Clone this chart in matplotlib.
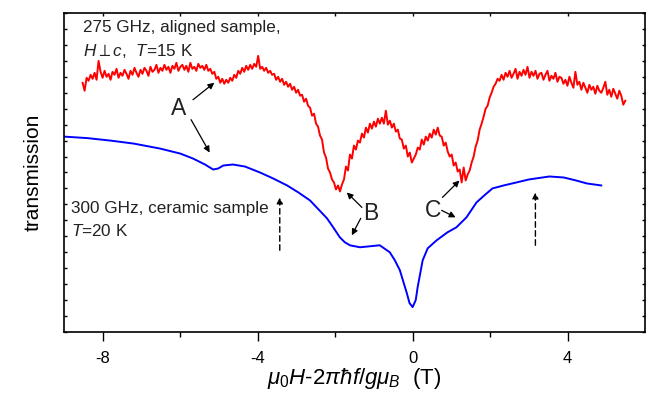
import numpy as np
import matplotlib
matplotlib.use("Agg")
import matplotlib.pyplot as plt

plt.rcParams["font.family"] = ["Liberation Sans", "DejaVu Sans"]
plt.rcParams["mathtext.fontset"] = "custom"
plt.rcParams["mathtext.rm"] = "Liberation Sans"
plt.rcParams["mathtext.it"] = "Liberation Sans:italic"
plt.rcParams["mathtext.bf"] = "Liberation Sans:bold"

# 275 GHz, aligned sample (noisy trace), evenly sampled in field
red_start, red_end = -8.52, 5.49
red_y = [
    250, 242, 255, 252, 258, 254, 260, 253, 272, 261,
    255, 262, 256, 259, 253, 261, 258, 264, 255, 260,
    257, 263, 259, 254, 262, 258, 265, 260, 256, 263,
    259, 265, 262, 257, 266, 261, 263, 268, 260, 265,
    262, 268, 263, 266, 260, 267, 264, 270, 262, 266,
    268, 263, 267, 261, 270, 264, 266, 262, 269, 265,
    267, 263, 268, 262, 264, 259, 261, 254, 256, 250,
    254, 249, 253, 250, 255, 252, 258, 255, 262, 259,
    265, 261, 267, 263, 268, 264, 269, 266, 277, 264,
    266, 262, 265, 260, 262, 258, 259, 253, 256, 251,
    254, 248, 251, 246, 249, 243, 246, 240, 243, 237,
    238, 231, 234, 227, 225, 217, 219, 209, 206, 197,
    193, 180, 175, 164, 160, 153, 150, 143, 147, 141,
    148, 153, 166, 162, 178, 174, 187, 183, 192, 190,
    199, 195, 205, 200, 209, 204, 211, 206, 214, 209,
    215, 209, 222, 208, 212, 205, 209, 201, 203, 194,
    193, 184, 187, 176, 180, 170, 174, 178, 185, 183,
    193, 188, 196, 192, 199, 195, 203, 198, 205, 197,
    196, 187, 190, 181, 176, 178, 167, 170, 161, 163,
    150, 165, 152, 158, 162, 170, 176, 186, 192, 203,
    209, 216, 224, 227, 235, 240, 246, 249, 254, 252,
    258, 253, 260, 256, 262, 255, 259, 264, 254, 261,
    257, 263, 258, 266, 255, 261, 257, 262, 254, 259,
    260, 253, 258, 262, 252, 257, 254, 260, 251, 256,
    255, 249, 253, 247, 256, 250, 245, 261, 248, 251,
    243, 250, 245, 240, 248, 243, 246, 239, 247, 242,
    240, 245, 251, 238, 243, 236, 244, 239, 234, 242,
    237, 228, 232,
]

# 300 GHz, ceramic sample
blue_x = [-9.0, -8.4, -7.80, -7.2, -6.52, -6.0, -5.67, -5.36, -5.15, -5.02,
          -4.89, -4.64, -4.33, -3.94, -3.6, -3.24, -2.95, -2.65, -2.21, -2.05,
          -1.88, -1.75, -1.62, -1.36, -1.1, -0.85, -0.59, -0.46, -0.33, -0.15,
          -0.08, 0.0, 0.08, 0.13, 0.26, 0.39, 0.62, 0.9, 1.13, 1.39,
          1.65, 1.85, 2.06, 2.35, 2.68, 3.0, 3.53, 3.9, 4.22, 4.5,
          4.87]
blue_y = [196, 194.5, 192, 189, 184, 179, 174, 168, 163, 164,
          167, 168, 166, 160, 154, 147, 140, 132, 114, 105,
          95, 90, 87, 85, 86, 87, 80, 72, 62, 39,
          29, 25, 32, 45, 72, 84, 92, 100, 105, 115,
          130, 137, 144, 147, 150, 153, 156, 155, 152, 149,
          147]

xticks_major = [-8, -4, 0, 4]
xticks_minor = [-6, -2, 2]

fig = plt.figure(figsize=(6.52, 3.96), dpi=100)
ax = fig.add_axes([0.0982, 0.1616, 0.8911, 0.8056])

red_x = np.linspace(red_start, red_end, len(red_y))
ax.plot(red_x, red_y, color="#ff0000", lw=1.4)
ax.plot(blue_x, blue_y, color="#0000ff", lw=1.4)

ax.set_xlim(-9, 6)
ax.set_ylim(0, 320)

ax.set_xticks(xticks_major)
ax.set_xticklabels([str(t) for t in xticks_major])
ax.set_xticks(xticks_minor, minor=True)
ax.set_yticks(np.arange(0, 321, 16))
ax.set_yticklabels([])
ax.tick_params(axis="x", which="major", direction="out", length=6.5, width=1,
               labelsize=12, pad=7, top=False)
ax.tick_params(axis="x", which="minor", direction="out", length=3.5, width=1, top=False)
ax.tick_params(axis="y", which="both", direction="in", length=2.5, width=1,
               left=True, right=True)
for s in ax.spines.values():
    s.set_linewidth(1.2)
# top ticks, pointing in
sec = ax.secondary_xaxis("top")
sec.set_xticks(xticks_major)
sec.set_xticks(xticks_minor, minor=True)
sec.tick_params(which="both", direction="in", length=2.5, width=1, labeltop=False)
sec.spines["top"].set_visible(False)

ax.set_xlabel(r"$\mu_0H$-$2\pi\hbar f/g\mu_B$  (T)", fontsize=16, labelpad=0)
ax.set_ylabel("transmission", fontsize=15, labelpad=12)

tc = "#222222"
ax.text(-8.52, 313, "275 GHz, aligned sample,", fontsize=12.3, color=tc, va="top")
ax.text(-8.52, 291, r"$H\perp c$,  $T$=15 K", fontsize=12.3, color=tc, va="top")
ax.text(-8.83, 131, "300 GHz, ceramic sample", fontsize=12.3, color=tc, va="top")
ax.text(-8.83, 109, r"$T$=20 K", fontsize=12.3, color=tc, va="top")

ax.text(-6.03, 224, "A", fontsize=16.5, color=tc, ha="center", va="center")
ax.text(-1.08, 119, "B", fontsize=16.5, color=tc, ha="center", va="center")
ax.text(0.52, 122, "C", fontsize=16.5, color=tc, ha="center", va="center")

arrows = [
    ((-5.67, 233), (-5.12, 250)),
    ((-5.72, 213), (-5.24, 180)),
    ((-1.31, 125), (-1.70, 140)),
    ((-1.34, 114), (-1.57, 97)),
    ((0.77, 135), (1.21, 152)),
    ((0.75, 122), (1.11, 115)),
]
for tail, head in arrows:
    ax.annotate("", xy=head, xytext=tail,
                arrowprops=dict(arrowstyle="-|>", color="black", lw=0.9,
                                mutation_scale=9, shrinkA=0, shrinkB=0))

for xd, y0, y1 in [(-3.43, 82, 135), (3.17, 87, 140)]:
    ax.annotate("", xy=(xd, y1), xytext=(xd, y0),
                arrowprops=dict(arrowstyle="-|>", color="black", lw=1.0,
                                linestyle=(0, (4, 2.5)), mutation_scale=9,
                                shrinkA=0, shrinkB=0))

fig.savefig("out.png", dpi=100)
